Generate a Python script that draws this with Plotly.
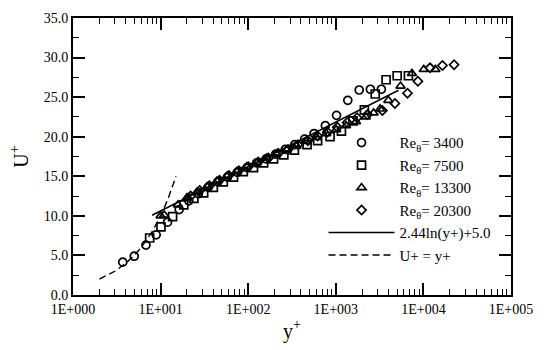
import numpy as np
import plotly.graph_objects as go

# ---------------- data ----------------
re3400_y = [3.7, 5.0, 6.8, 8.9, 12.0, 16.3, 21, 27, 35, 45, 58, 75, 97, 125, 160, 206, 265, 340, 440, 565, 760, 1020, 1370, 1850, 2480, 3310]
re3400_u = [4.15, 4.9, 6.3, 7.6, 9.2, 10.8, 11.9, 12.8, 13.6, 14.3, 14.9, 15.5, 16.1, 16.7, 17.2, 17.8, 18.4, 19.0, 19.7, 20.4, 21.4, 22.7, 24.6, 25.9, 26.0, 26.0]

re7500_y = [7.5, 10.1, 13.7, 18.4, 24, 31, 40, 52, 68, 88, 115, 150, 195, 255, 337, 470, 620, 860, 1160, 1570, 2120, 2820, 3750, 5020, 6740]
re7500_u = [7.2, 8.6, 9.9, 11.4, 12.2, 12.9, 13.6, 14.3, 14.9, 15.6, 16.1, 16.7, 17.2, 17.7, 18.3, 19.0, 19.5, 20.0, 20.7, 22.0, 23.4, 25.4, 27.2, 27.7, 27.7]

re13300_y = [10, 11, 15.8, 20, 26, 34, 44, 57, 74, 96, 125, 162, 210, 275, 355, 460, 600, 780, 1010, 1310, 1700, 2200, 2700, 3210, 3980, 5480, 7400, 10100, 13700]
re13300_u = [10.0, 10.1, 11.4, 12.3, 13.0, 13.7, 14.4, 15.0, 15.6, 16.2, 16.7, 17.3, 17.8, 18.3, 18.8, 19.4, 19.9, 20.4, 20.9, 21.4, 21.9, 22.5, 23.0, 23.5, 24.6, 26.4, 28.0, 28.5, 28.5]

re20300_y = [22, 28, 36, 47, 60, 78, 100, 130, 170, 220, 285, 370, 480, 620, 800, 1040, 1350, 1750, 2300, 3400, 4730, 6580, 8650, 11900, 16500, 22400]
re20300_u = [12.5, 13.2, 13.8, 14.5, 15.1, 15.7, 16.2, 16.8, 17.3, 17.9, 18.4, 19.0, 19.5, 20.1, 20.6, 21.2, 21.8, 22.4, 22.8, 23.3, 24.2, 25.5, 27.0, 28.7, 29.0, 29.1]

# log-law: U+ = 2.44 ln(y+) + 5.0
loglaw_kappa_inv = 2.44
loglaw_B = 5.0
loglaw_y = [8.0, 5200.0]

# viscous sublayer: U+ = y+
sublayer_y = [2.0, 3.0, 4.0, 5.0, 6.0, 8.0, 10.0, 12.0, 15.0]

series_names = ["Re<sub>θ</sub>= 3400", "Re<sub>θ</sub>= 7500",
                "Re<sub>θ</sub>= 13300", "Re<sub>θ</sub>= 20300"]
loglaw_name = "2.44ln(y+)+5.0"
sublayer_name = "U+ = y+"

x_tickvals = [1, 10, 100, 1000, 10000, 100000]
x_ticktext = ["1E+000", "1E+001", "1E+002", "1E+003", "1E+004", "1E+005"]
y_tickvals = [0, 5, 10, 15, 20, 25, 30, 35]
y_ticktext = ["0.0", "5.0", "10.0", "15.0", "20.0", "25.0", "30.0", "35.0"]

# ---------------- figure ----------------
FONT = "Liberation Serif"
fig = go.Figure()

sym = ["circle-open", "square-open", "triangle-up-open", "diamond-open"]
xs = [re3400_y, re7500_y, re13300_y, re20300_y]
ys = [re3400_u, re7500_u, re13300_u, re20300_u]
sizes = [8, 8, 8, 7]
for name, s, x, y, sz in zip(series_names, sym, xs, ys, sizes):
    fig.add_trace(go.Scatter(
        x=x, y=y, mode="markers", name=name,
        marker=dict(symbol=s, size=sz, color="black", line=dict(width=1.7, color="black")),
    ))

ll_x = np.array(loglaw_y)
ll_u = loglaw_kappa_inv * np.log(ll_x) + loglaw_B
fig.add_trace(go.Scatter(x=ll_x, y=ll_u, mode="lines", name=loglaw_name,
                         line=dict(color="black", width=1.6)))
sl_x = np.array(sublayer_y)
fig.add_trace(go.Scatter(x=sl_x, y=sl_x, mode="lines", name=sublayer_name,
                         line=dict(color="black", width=1.4, dash="7px,4px")))

minor_x = [m * 10 ** d for d in range(0, 5) for m in range(2, 10)]

fig.update_xaxes(
    type="log", range=[0, 5],
    tickmode="array", tickvals=x_tickvals, ticktext=x_ticktext,
    ticks="inside", ticklen=12, tickwidth=1.5, tickcolor="black",
    minor=dict(tickmode="array", tickvals=minor_x, ticks="inside", ticklen=6,
               tickwidth=1.2, tickcolor="black", showgrid=False),
    showline=True, linecolor="black", linewidth=2, mirror="allticks",
    showgrid=False, zeroline=False,
    tickfont=dict(family=FONT, size=14, color="black"),
    title=dict(text="y<sup>+</sup>", font=dict(family=FONT, size=20, color="black"), standoff=8),
)
fig.update_yaxes(
    range=[0, 35],
    tickmode="array", tickvals=y_tickvals, ticktext=y_ticktext,
    ticks="inside", ticklen=12, tickwidth=1.5, tickcolor="black",
    minor=dict(dtick=2.5, ticks="inside", ticklen=6, tickwidth=1.2,
               tickcolor="black", showgrid=False),
    showline=True, linecolor="black", linewidth=2, mirror="allticks",
    showgrid=False, zeroline=False,
    tickfont=dict(family=FONT, size=14, color="black"),
    title=dict(text="U<sup>+</sup>", font=dict(family=FONT, size=20, color="black"), standoff=10),
)

fig.update_layout(
    width=544, height=350,
    margin=dict(l=73, r=25, t=11, b=55),
    paper_bgcolor="white", plot_bgcolor="white",
    font=dict(family=FONT, color="black"),
    legend=dict(
        x=0.572, y=0.609, xanchor="left", yanchor="top",
        bgcolor="rgba(0,0,0,0)", borderwidth=0,
        font=dict(family=FONT, size=15, color="black"),
        tracegroupgap=0, itemwidth=66,
    ),
)

fig.write_html("out.html")
